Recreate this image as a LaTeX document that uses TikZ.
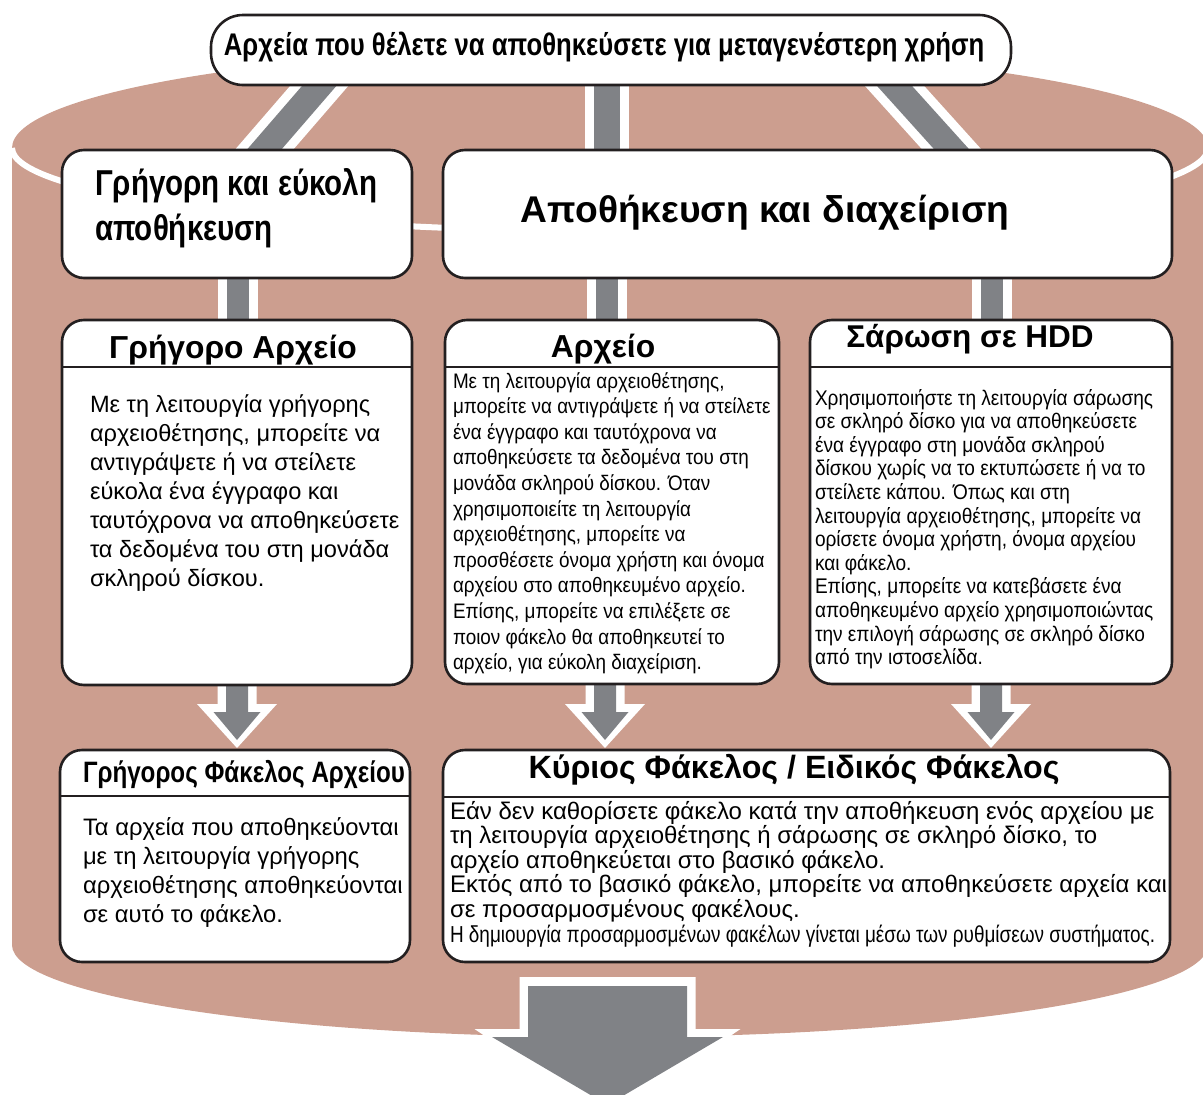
\documentclass[tikz,border=0pt]{standalone}
\usepackage{fontspec}
\setmainfont{Liberation Sans}
\newfontfamily\nar[FakeStretch=0.82]{Liberation Sans}
\newfontfamily\narb[FakeStretch=0.9]{Liberation Sans}
\usetikzlibrary{calc}
\definecolor{cyl}{RGB}{204,158,143}
\definecolor{bargray}{RGB}{128,130,134}
\definecolor{boxline}{RGB}{35,31,32}
\pgfdeclarelayer{back}\pgfdeclarelayer{mid}\pgfsetlayers{back,mid,main}
\newcommand\blkarrow[4]{%
  \path[fill=white] let \p1=([xshift=#2]#1.south), \p2=([xshift=#4]#3.north) in
    (\x1-19.5pt,\y1+8pt) -- (\x1-19.5pt,\y2+46pt) -- (\x1-40pt,\y2+46pt) -- (\x1,\y2+2pt)
    -- (\x1+40pt,\y2+46pt) -- (\x1+19.5pt,\y2+46pt) -- (\x1+19.5pt,\y1+8pt) -- cycle;
  \path[fill=bargray] let \p1=([xshift=#2]#1.south), \p2=([xshift=#4]#3.north) in
    (\x1-11pt,\y1+8pt) -- (\x1-11pt,\y2+38pt) -- (\x1-23.5pt,\y2+38pt) -- (\x1,\y2+10pt)
    -- (\x1+23.5pt,\y2+38pt) -- (\x1+11pt,\y2+38pt) -- (\x1+11pt,\y1+8pt) -- cycle;
}
\begin{document}
\begin{tikzpicture}[x=1pt,y=-1pt,
  box/.style={draw=boxline,line width=2.6pt,fill=white,rounded corners=22pt,inner sep=0pt,outer sep=0pt},
  txt/.style={inner sep=0pt,outer sep=0pt,text=black},
  sep/.style={draw=boxline,line width=2.6pt},
  bar/.style={draw=white,double=bargray,double distance=#1,line width=9pt},
]
\useasboundingbox (0,0) rectangle (1203,1095);

% boxes
\node[box,rounded corners=32pt,minimum width=800pt,minimum height=70pt] (top) at (611,50) {};
\node[box,minimum width=350pt,minimum height=128pt] (quick) at (237,214) {};
\node[box,minimum width=729pt,minimum height=128pt] (store) at (807.5,214) {};
\node[box,minimum width=350pt,minimum height=365pt] (qfile) at (237,502.5) {};
\node[box,minimum width=334pt,minimum height=364pt] (arch) at (612,502) {};
\node[box,minimum width=362pt,minimum height=364pt] (scan) at (991,502) {};
\node[box,minimum width=350pt,minimum height=212pt] (qfold) at (235,856) {};
\node[box,minimum width=727pt,minimum height=212pt] (mfold) at (806.5,856) {};

% separators
\draw[sep] ([yshift=-47pt]qfile.north west) -- ([yshift=-47pt]qfile.north east);
\draw[sep] ([yshift=-47pt]arch.north west) -- ([yshift=-47pt]arch.north east);
\draw[sep] ([yshift=-47pt]scan.north west) -- ([yshift=-47pt]scan.north east);
\draw[sep] ([yshift=-46pt]qfold.north west) -- ([yshift=-46pt]qfold.north east);
\draw[sep] ([yshift=-47pt]mfold.north west) -- ([yshift=-47pt]mfold.north east);

% titles
\node[txt,anchor=base,font=\nar\bfseries\fontsize{31.3}{36}\selectfont] (ttop) at (604,55)
  {Αρχεία που θέλετε να αποθηκεύσετε για μεταγενέστερη χρήση};
\node[txt,anchor=base west,align=left,font=\nar\bfseries\fontsize{36}{45}\selectfont] (tquick) at (95,240)
  {Γρήγορη και εύκολη\\αποθήκευση};
\node[txt,anchor=base,font=\bfseries\fontsize{37.2}{42}\selectfont] (tstore) at (765,222)
  {Αποθήκευση και διαχείριση};
\node[txt,anchor=base,font=\bfseries\fontsize{31.8}{36}\selectfont] (tqfile) at (233,358) {Γρήγορο Αρχείο};
\node[txt,anchor=base,font=\bfseries\fontsize{31.8}{36}\selectfont] (tarch) at (603,357) {Αρχείο};
\node[txt,anchor=base,font=\bfseries\fontsize{31.5}{36}\selectfont] (tscan) at (970,347) {Σάρωση σε HDD};
\node[txt,anchor=base west,font=\nar\bfseries\fontsize{29.5}{34}\selectfont] (tqfold) at (83,782)
  {Γρήγορος Φάκελος Αρχείου};
\node[txt,anchor=base,font=\bfseries\fontsize{32.2}{36}\selectfont] (tmfold) at (794,778)
  {Κύριος Φάκελος / Ειδικός Φάκελος};

% bodies (anchor on baseline of the last line)
\node[txt,anchor=base west,align=left,font=\fontsize{23.6}{29}\selectfont] (bqfile) at (90,586)
  {Με τη λειτουργία γρήγορης\\αρχειοθέτησης, μπορείτε να\\αντιγράψετε ή να στείλετε\\εύκολα ένα έγγραφο και\\ταυτόχρονα να αποθηκεύσετε\\τα δεδομένα του στη μονάδα\\σκληρού δίσκου.};
\node[txt,anchor=base west,align=left,font=\narb\fontsize{21}{25.6}\selectfont] (barch) at (453,669.6)
  {Με τη λειτουργία αρχειοθέτησης,\\μπορείτε να αντιγράψετε ή να στείλετε\\ένα έγγραφο και ταυτόχρονα να\\αποθηκεύσετε τα δεδομένα του στη\\μονάδα σκληρού δίσκου. Όταν\\χρησιμοποιείτε τη λειτουργία\\αρχειοθέτησης, μπορείτε να\\προσθέσετε όνομα χρήστη και όνομα\\αρχείου στο αποθηκευμένο αρχείο.\\Επίσης, μπορείτε να επιλέξετε σε\\ποιον φάκελο θα αποθηκευτεί το\\αρχείο, για εύκολη διαχείριση.};
\node[txt,anchor=base west,align=left,font=\narb\fontsize{21.2}{23.6}\selectfont] (bscan) at (815,664.6)
  {Χρησιμοποιήστε τη λειτουργία σάρωσης\\σε σκληρό δίσκο για να αποθηκεύσετε\\ένα έγγραφο στη μονάδα σκληρού\\δίσκου χωρίς να το εκτυπώσετε ή να το\\στείλετε κάπου. Όπως και στη\\λειτουργία αρχειοθέτησης, μπορείτε να\\ορίσετε όνομα χρήστη, όνομα αρχείου\\και φάκελο.\\Επίσης, μπορείτε να κατεβάσετε ένα\\αποθηκευμένο αρχείο χρησιμοποιώντας\\την επιλογή σάρωσης σε σκληρό δίσκο\\από την ιστοσελίδα.};
\node[txt,anchor=base west,align=left,font=\fontsize{23.8}{29}\selectfont] (bqfold) at (83,922)
  {Τα αρχεία που αποθηκεύονται\\με τη λειτουργία γρήγορης\\αρχειοθέτησης αποθηκεύονται\\σε αυτό το φάκελο.};
\node[txt,anchor=base west,align=left,font=\fontsize{24}{24.6}\selectfont] (bmfold) at (450,942)
  {Εάν δεν καθορίσετε φάκελο κατά την αποθήκευση ενός αρχείου με\\τη λειτουργία αρχειοθέτησης ή σάρωσης σε σκληρό δίσκο, το\\αρχείο αποθηκεύεται στο βασικό φάκελο.\\Εκτός από το βασικό φάκελο, μπορείτε να αποθηκεύσετε αρχεία και\\σε προσαρμοσμένους φακέλους.\\{\nar\fontsize{23.1}{24.6}\selectfont Η δημιουργία προσαρμοσμένων φακέλων γίνεται μέσω των ρυθμίσεων συστήματος.}};

\coordinate (out) at (607.5,1105);

% connectors
\begin{pgfonlayer}{mid}
\draw[bar=26pt,shorten <=-20pt,shorten >=-25pt] ([xshift=-291pt]top.south) -- ([xshift=26.8pt]quick.north);
\draw[bar=26pt,shorten <=-20pt,shorten >=-25pt] ([xshift=-4pt]top.south) -- ([xshift=-200.5pt]store.north);
\draw[bar=26pt,shorten <=-20pt,shorten >=-25pt] ([xshift=282.7pt]top.south) -- ([xshift=144.8pt]store.north);
\draw[bar=22pt,shorten <=-12pt,shorten >=-12pt] ([xshift=0.5pt]quick.south) -- ([xshift=0.5pt]qfile.north);
\draw[bar=22pt,shorten <=-12pt,shorten >=-12pt] ([xshift=-201pt]store.south) -- ([xshift=-5.5pt]arch.north);
\draw[bar=22pt,shorten <=-12pt,shorten >=-12pt] ([xshift=184.5pt]store.south) -- ([xshift=1pt]scan.north);
\blkarrow{qfile}{0pt}{qfold}{2pt}
\blkarrow{arch}{-7pt}{mfold}{-201.5pt}
\blkarrow{scan}{0pt}{mfold}{184.5pt}
% big output arrow
\path[fill=white] let \p1=([xshift=-199pt]mfold.south), \p2=(out) in
  (\x1-88pt,\y1-15pt) -- (\x1-88pt,\y1-67pt) -- (\x1-133pt,\y1-67pt) -- (\x1,\y2-14pt)
  -- (\x1+133pt,\y1-67pt) -- (\x1+88pt,\y1-67pt) -- (\x1+88pt,\y1-15pt) -- cycle;
\path[fill=bargray] let \p1=([xshift=-199pt]mfold.south), \p2=(out) in
  (\x1-79.5pt,\y1-24pt) -- (\x1-79.5pt,\y1-75pt) -- (\x1-115.5pt,\y1-75pt) -- (\x1,\y2)
  -- (\x1+115.5pt,\y1-75pt) -- (\x1+79.5pt,\y1-75pt) -- (\x1+79.5pt,\y1-24pt) -- cycle;
\end{pgfonlayer}

% cylinder
\begin{pgfonlayer}{back}
\fill[cyl] (12,148) -- (12,945) arc[start angle=180,end angle=0,x radius=598,y radius=92]
  -- (1208,148) arc[start angle=0,end angle=-180,x radius=598,y radius=100] -- cycle;
\draw[white,line width=6pt] (12,148) arc[start angle=180,end angle=0,x radius=598,y radius=83];
\end{pgfonlayer}
\end{tikzpicture}
\end{document}
